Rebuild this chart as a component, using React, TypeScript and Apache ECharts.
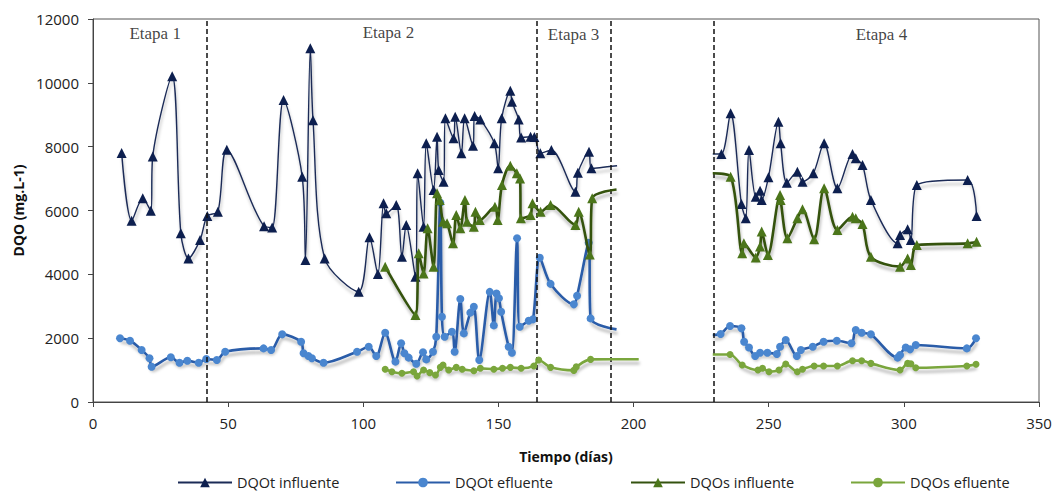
import React, { useEffect, useRef } from "react";
import * as echarts from "echarts";

// ---- data (x = Tiempo en días, y = DQO mg/L) ----
const xTicks = { min: 0, max: 350, interval: 50 };
const yTicks = { min: 0, max: 12000, interval: 2000 };

const stageBounds = [42, 164.3, 191.7, 229.5];
const stageLabels: [string, number, number][] = [
  ["Etapa 1", 23, 11560],
  ["Etapa 2", 109.3, 11590],
  ["Etapa 3", 177.8, 11530],
  ["Etapa 4", 291.7, 11500],
];

const dqotInfA: [number, number][] = [
  [10.6, 7800], [14.3, 5680], [18.4, 6380], [21.4, 5990], [22.1, 7690], [29.3, 10210],
  [32.5, 5285], [35.3, 4500], [39.6, 5075], [42.3, 5830], [46.2, 5960], [49.5, 7900],
  [63.3, 5510], [66.3, 5470], [70.5, 9460], [77.4, 7060], [78.6, 4450], [80.4, 11080],
  [81.4, 8830], [85.7, 4500], [98.3, 3455], [102.3, 5160], [105.4, 4010], [107.5, 6225],
  [108.5, 5910], [112.2, 6170], [114.3, 4550], [115.9, 5545], [119.3, 3925], [120.1, 7165],
  [122.3, 5490], [123.3, 8105], [126, 6640], [127.3, 8310], [127.9, 7270], [129.7, 6900],
  [130.4, 8890], [133.4, 8260], [134, 8940], [136.3, 7790], [137.5, 8890], [140.6, 8030],
  [141.2, 8960], [143.3, 8855], [148.5, 8105], [149.9, 7320], [151.2, 8890], [154.4, 9750],
  [155, 9410], [157.5, 8855], [158.4, 8290], [161.9, 8310], [163.3, 8300], [165.5, 7790],
  [169.6, 7895], [178.5, 6590], [179.4, 7185], [183.5, 7840], [184.4, 7320], [193.9, 7400],
];
const dqotInfB: [number, number][] = [
  [229.3, 7770], [232.5, 7770], [235.9, 9045], [239.9, 6200], [241.5, 5755], [242.7, 7895],
  [245.2, 6430], [246.8, 6620], [247.4, 6330], [249.9, 7040], [253.6, 8780], [254.4, 8105],
  [256.7, 6870], [260.6, 7215], [262.5, 6900], [266.5, 7165], [270.5, 8105], [275.4, 6695],
  [281, 7770], [282.2, 7635], [284.7, 7425], [287.8, 6330], [297.7, 4970], [298.6, 5230],
  [301.4, 5410], [302.6, 5075], [304.8, 6800], [323.6, 6955], [326.9, 5830],
];

const dqotEfA: [number, number][] = [
  [10, 1995], [13.7, 1920], [18, 1630], [20.9, 1370], [21.7, 1105], [28.8, 1400],
  [32, 1230], [34.9, 1295], [39.1, 1230], [41.9, 1345], [45.8, 1315], [48.9, 1575],
  [63.1, 1680], [65.9, 1630], [70, 2120], [77, 1890], [77.9, 1525], [79.7, 1440],
  [81, 1370], [85.3, 1230], [97.7, 1575], [102, 1730], [104.8, 1440], [108.1, 2170],
  [111.9, 1265], [114, 1840], [115.2, 1525], [116.8, 1390], [119.6, 1200], [122.1, 1560],
  [123.3, 1335], [125.8, 1575], [127, 2045], [128.5, 6245], [129.1, 2670], [130.1, 2045],
  [132.8, 2200], [133.8, 1575], [135.9, 3225], [137.2, 2150], [139.6, 2800], [140.9, 2985],
  [142.9, 1315], [146.8, 3450], [148.3, 2400], [149.3, 3400], [150.2, 3250], [151, 2830],
  [153.8, 1730], [155, 1545], [156.9, 5130], [157.9, 2360], [161.2, 2545], [162.8, 2590],
  [165.3, 4520], [169.3, 3700], [177.9, 3060], [179.1, 3330], [183.4, 4990], [184.1, 2620],
  [193.7, 2275],
];
const dqotEfB: [number, number][] = [
  [229.3, 2100], [232.2, 2130], [235.7, 2380], [239.9, 2310], [240.9, 1890], [242.7, 1710],
  [245, 1440], [246.8, 1545], [249.5, 1545], [253, 1505], [254.2, 1730], [256.3, 1940],
  [260.4, 1440], [261.9, 1630], [266.3, 1730], [270.3, 1890], [275.2, 1920], [280.6, 1840],
  [282.2, 2255], [284.4, 2170], [287.8, 2120], [297.7, 1390], [298.6, 1475], [300.7, 1710],
  [302.3, 1650], [304.4, 1785], [323.3, 1680], [326.7, 1995],
];

const dqosInfA: [number, number][] = [
  [108.1, 4240], [119.3, 2725], [120.5, 4660], [122.3, 4030], [123.8, 5440], [126, 4240],
  [127.3, 6540], [128.3, 6330], [129.5, 5650], [131, 5600], [133.2, 4970], [134.4, 5860],
  [135.9, 5440], [137.6, 6330], [138.4, 5650], [140.9, 5490], [141.5, 5960], [143.1, 5700],
  [148.7, 6120], [149.7, 5700], [151.3, 6800], [154.4, 7400], [156.8, 7165], [158, 7000],
  [158.3, 5755], [161.9, 5860], [162.6, 6225], [165.6, 5960], [169.3, 6170], [178.5, 5545],
  [179.7, 5960], [183.8, 4620], [184.7, 6380], [193.7, 6660],
];
const dqosInfB: [number, number][] = [
  [229.3, 7165], [235.9, 7060], [240.2, 4660], [240.8, 4970], [245.2, 4530], [246.8, 4870],
  [247.4, 5340], [249.7, 4605], [254.2, 6485], [254.4, 6330], [256.9, 5130], [260.6, 5755],
  [262.5, 6040], [266.8, 5100], [270.5, 6695], [275.4, 5390], [281, 5805], [282.2, 5755],
  [284.7, 5575], [287.8, 4550], [298.6, 4240], [301.4, 4500], [302.6, 4290], [304.8, 4920],
  [323.6, 4970], [326.9, 5020],
];

const dqosEfA: [number, number][] = [
  [108.1, 1025], [110.6, 950], [114.3, 900], [118.6, 950], [119.9, 815], [122.3, 1000],
  [124.6, 920], [126.7, 845], [128.5, 1085], [129.5, 1160], [131.6, 1000], [134.4, 1085],
  [136.6, 1025], [140.9, 980], [143.3, 1055], [148.3, 1025], [151.5, 1060], [154.4, 1085],
  [158.4, 1055], [163.1, 1130], [164.9, 1315], [169.3, 1085], [177.9, 990], [178.8, 1100],
  [184.1, 1335], [201.9, 1340],
];
const dqosEfB: [number, number][] = [
  [229.3, 1490], [235.7, 1490], [240.2, 1160], [246, 1000], [247.7, 1055], [250.1, 950],
  [253.8, 1000], [256.3, 1190], [260.6, 950], [262.5, 1025], [266.8, 1130], [270.3, 1130],
  [275.4, 1130], [281, 1295], [284.4, 1295], [287.8, 1210], [298.6, 1000], [301.4, 1210],
  [302.6, 1200], [304.4, 1075], [323.3, 1130], [326.7, 1180],
];

const seriesNames = ["DQOt influente", "DQOt efluente", "DQOs influente", "DQOs efluente"];

const SANS = "'Open Sans', 'Liberation Sans', sans-serif";
const SERIF = "'Liberation Serif', 'DejaVu Serif', serif";

function seg(points: [number, number][], openStart: boolean, openEnd: boolean) {
  return points.map((p, i) => {
    const open = (openStart && i === 0) || (openEnd && i === points.length - 1);
    return open ? { value: p, symbol: "none" } : { value: p };
  });
}

const styles = [
  { line: "#1b2b57", mark: "#0d1f4f", width: 1.4, symbol: "triangle", size: 10 },
  { line: "#2a5ca8", mark: "#4a86cf", width: 2.6, symbol: "circle", size: 8 },
  { line: "#34520f", mark: "#4b751a", width: 2.6, symbol: "triangle", size: 10 },
  { line: "#7aa63c", mark: "#7aa63c", width: 2.6, symbol: "circle", size: 7 },
];

const legendLefts = [172, 390, 625, 845];

const segments: [number, [number, number][], boolean, boolean][] = [
  [0, dqotInfA, false, true],
  [0, dqotInfB, true, false],
  [1, dqotEfA, false, true],
  [1, dqotEfB, true, false],
  [2, dqosInfA, false, true],
  [2, dqosInfB, true, false],
  [3, dqosEfA, false, true],
  [3, dqosEfB, true, false],
];

export default function App() {
  const ref = useRef<HTMLDivElement>(null);
  useEffect(() => {
    document.body.style.margin = "0";
    if (!ref.current) return;
    const chart = echarts.init(ref.current, undefined, { renderer: "svg" });
    const lineSeries = segments.map(([k, pts, os, oe]) => {
      const s = styles[k];
      return {
        type: "line",
        name: seriesNames[k],
        data: seg(pts, os, oe),
        smooth: 0.3,
        symbol: s.symbol,
        symbolSize: s.size,
        showAllSymbol: true,
        z: 3 + k,
        lineStyle: {
          color: s.line,
          width: s.width,
          shadowColor: "rgba(0,0,0,0.28)",
          shadowBlur: 3,
          shadowOffsetX: 1,
          shadowOffsetY: 4,
        },
        itemStyle: { color: s.mark, borderWidth: 0 },
        emphasis: { disabled: true },
      };
    });
    const option: any = {
      animation: false,
      backgroundColor: "#ffffff",
      grid: {
        left: 93,
        right: 17,
        top: 19,
        bottom: 90,
        show: true,
        borderColor: "#555",
        borderWidth: 1,
      },
      legend: seriesNames.map((n, i) => ({
        data: [n],
        top: 470,
        left: legendLefts[i],
        itemWidth: 54,
        itemHeight: 12,
        itemGap: 6,
        textStyle: { fontFamily: SANS, fontSize: 14.5, color: "#222" },
      })),
      xAxis: {
        type: "value",
        min: xTicks.min,
        max: xTicks.max,
        interval: xTicks.interval,
        name: "Tiempo (días)",
        nameLocation: "middle",
        nameGap: 47,
        nameTextStyle: { fontFamily: SANS, fontSize: 14, fontWeight: "bold", color: "#111" },
        axisLine: { show: true, lineStyle: { color: "#444", width: 1 } },
        axisTick: { show: true, inside: false, length: 5, lineStyle: { color: "#444" } },
        axisLabel: { fontFamily: SANS, fontSize: 15, color: "#222", margin: 13 },
        splitLine: { show: false },
      },
      yAxis: {
        type: "value",
        min: yTicks.min,
        max: yTicks.max,
        interval: yTicks.interval,
        name: "DQO (mg.L-1)",
        nameLocation: "middle",
        nameGap: 64,
        nameTextStyle: { fontFamily: SANS, fontSize: 14, fontWeight: "bold", color: "#111" },
        axisLine: { show: true, lineStyle: { color: "#444", width: 1 } },
        axisTick: { show: true, inside: false, length: 5, lineStyle: { color: "#444" } },
        axisLabel: {
          fontFamily: SANS,
          fontSize: 15,
          color: "#222",
          margin: 14,
          formatter: (v: number) => String(v),
        },
        splitLine: { show: false },
      },
      series: [
        ...lineSeries,
        {
          type: "scatter",
          name: "stages",
          silent: true,
          symbolSize: 0,
          z: 10,
          data: stageLabels.map(([n, x, y]) => ({ name: n, value: [x, y] })),
          label: {
            show: true,
            position: "inside",
            formatter: "{b}",
            fontFamily: SERIF,
            fontSize: 17,
            color: "#111",
          },
          markLine: {
            silent: true,
            symbol: ["none", "none"],
            label: { show: false },
            lineStyle: { color: "#111", width: 1.5, type: [5, 3] },
            data: stageBounds.map((x) => ({ xAxis: x })),
          },
        },
      ],
    };
    chart.setOption(option);
    return () => chart.dispose();
  }, []);
  return <div ref={ref} style={{ width: 1056, height: 492 }} />;
}
